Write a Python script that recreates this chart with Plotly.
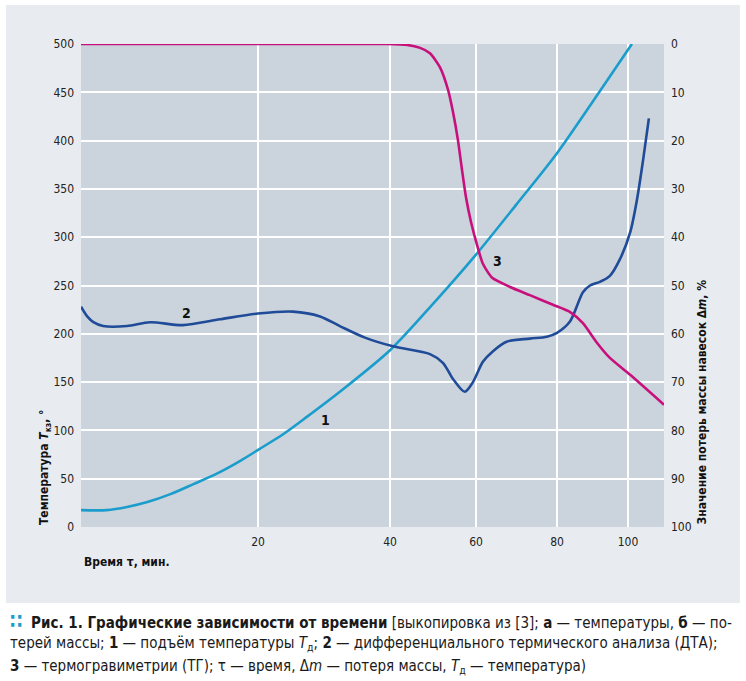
import numpy as np
import plotly.graph_objects as go

# time axis in the source is not linear: tick minutes and where they sit along the axis
tick_minutes = [0, 20, 40, 60, 80, 100, 110]
tick_axis_pos = [0, 177, 309, 395, 476, 547, 583]
x_tick_labels = ["20", "40", "60", "80", "100"]

# 1 - temperature rise, T (left axis)
temp_t = [0, 2.9, 5.2, 7.5, 10.1, 12.7, 15.4, 18.0, 20.2, 23.8, 27.4, 32.4,
          40, 50, 60, 70, 80, 90, 100, 101.1]
temp_v = [17.5, 17.5, 20.7, 25.8, 34, 44.4, 55.5, 68.5, 80.6, 96, 114, 140,
          183, 231, 282, 334, 387, 440, 494, 500]

# 2 - DTA (left axis)
dta_t = [0, 0.7, 1.4, 2.5, 5.2, 7.8, 11.5, 15.7, 20, 25.3, 29.4, 32.4, 36.2,
         40.7, 49.3, 52.3, 54.7, 57.4, 59.3, 61.7, 64.2, 67.7, 73.3, 77.5, 80,
         83.7, 87.3, 89.3, 92.2, 94.9, 97.7, 100.6, 102.5, 104.2, 105.8]
dta_v = [228, 218, 212, 208, 208, 212, 209, 215, 221, 223, 218, 208, 196,
         187, 179, 170, 153, 140, 150, 171, 182, 192, 195, 197, 201,
         213, 243, 250, 254, 260, 277, 305, 339, 380, 423]

# 3 - TG, mass loss % (right axis, reversed)
tg_t = [0, 39.5, 44.0, 47.0, 49.3, 51.6, 53.5, 54.65, 55.8, 56.75, 57.7, 58.85,
        60.25, 61.7, 64.0, 68.4, 73.3, 79.0, 83.7, 87.3, 91.3, 94.9, 100.6, 110]
tg_v = [0, 0, 0.2, 0.8, 1.9, 4.8, 9.5, 14.1, 19.9, 26.1, 31.9, 36.9,
        41.6, 45.5, 48.4, 50.3, 52, 54, 55.5, 57.8, 61.9, 65, 68.5, 74.7]

curve_labels = ["1", "2", "3"]
label_t = [30.2, 11.9, 65.2]
label_v = [111, 222, 275]


def to_axis(minutes):
    return np.interp(minutes, tick_minutes, tick_axis_pos)


PANEL = "#e8ecf0"
PLOT_BG = "#cbd4dc"
NARROW = "Liberation Sans Narrow, DejaVu Sans Condensed, Arial Narrow, sans-serif"
COND = "DejaVu Sans Condensed, sans-serif"

fig = go.Figure()
fig.add_trace(go.Scatter(x=to_axis(temp_t), y=temp_v, mode="lines",
                         line=dict(color="#1a9dcc", width=2.6, shape="spline", smoothing=0.8)))
fig.add_trace(go.Scatter(x=to_axis(dta_t), y=dta_v, mode="lines",
                         line=dict(color="#1f4b98", width=2.6, shape="spline", smoothing=0.8)))
fig.add_trace(go.Scatter(x=to_axis(tg_t), y=tg_v, mode="lines", yaxis="y2",
                         line=dict(color="#c8107c", width=2.6, shape="spline", smoothing=0.6)))

for txt, t, v in zip(curve_labels, label_t, label_v):
    fig.add_annotation(x=float(to_axis(t)), y=v, text="<b>%s</b>" % txt, showarrow=False,
                       font=dict(family=COND, size=14, color="#111"))

W, H = 746, 681
L, R, T, B = 81, 82, 44, 154
pw, ph = W - L - R, H - T - B


def px(x):
    return (x - L) / pw


def py(y):
    return (H - B - y) / ph


# white frame round the grey panel and under the caption
for x0, y0, x1, y1 in [(0, 0, W, 5), (0, 0, 6, H), (740, 0, W, H), (0, 603, W, H)]:
    fig.add_shape(type="rect", xref="paper", yref="paper", x0=px(x0), x1=px(x1),
                  y0=py(y1), y1=py(y0), fillcolor="white", line_width=0, layer="below")

fig.add_annotation(xref="paper", yref="paper", x=px(45), y=py(527), xanchor="center", yanchor="bottom",
                   textangle=-90, showarrow=False,
                   text="<b>Температура <i>T</i><sub>кз</sub>, °</b>",
                   font=dict(family=COND, size=12, color="#111"))
fig.add_annotation(xref="paper", yref="paper", x=px(701), y=py(527), xanchor="center", yanchor="bottom",
                   textangle=-90, showarrow=False,
                   text="<b>Значение потерь массы навесок Δ<i>m</i>, %</b>",
                   font=dict(family=COND, size=12, color="#111"))
fig.add_annotation(xref="paper", yref="paper", x=px(82), y=py(562), xanchor="left", yanchor="middle",
                   showarrow=False, text="<b>Время τ, мин.</b>",
                   font=dict(family=COND, size=12, color="#111"))

caption = [
    "<span style='color:#1a9dcc;font-size:20px'><b>∷</b></span>  <b>Рис. 1. Графические зависимости от времени</b> "
    "[выкопировка из [3]; <b>а</b> — температуры, <b>б</b> — по-",
    "терей массы; <b>1</b> — подъём температуры <i>T</i><sub>д</sub>; <b>2</b> — "
    "дифференциального термического анализа (ДТА);",
    "<b>3</b> — термогравиметрии (ТГ); τ — время, Δ<i>m</i> — потеря массы, "
    "<i>T</i><sub>д</sub> — температура)",
]
for i, line in enumerate(caption):
    fig.add_annotation(xref="paper", yref="paper", x=px(8), y=py(621 + 22.5 * i), xanchor="left",
                       yanchor="middle", showarrow=False, text=line, align="left",
                       font=dict(family=COND, size=15, color="#1a1a1a"))

fig.update_layout(
    width=W, height=H,
    margin=dict(l=L, r=R, t=T, b=B),
    paper_bgcolor=PANEL,
    plot_bgcolor=PLOT_BG,
    showlegend=False,
    font=dict(family=NARROW, color="#222"),
    xaxis=dict(range=[0, 583], tickvals=list(to_axis([20, 40, 60, 80, 100])),
               ticktext=x_tick_labels, showgrid=True, gridcolor="white", gridwidth=1.5,
               zeroline=False, showline=False, ticks="", tickfont=dict(size=12), ticklabelstandoff=6),
    yaxis=dict(range=[0, 500], dtick=50, showgrid=True, gridcolor="white", gridwidth=1.5,
               zeroline=False, showline=False, ticks="", tickfont=dict(size=12), ticklabelstandoff=6),
    yaxis2=dict(range=[100, 0], dtick=10, overlaying="y", side="right", showgrid=False,
                zeroline=False, showline=False, ticks="", tickfont=dict(size=12), ticklabelstandoff=6),
)

fig.write_html("out.html", config={"displayModeBar": False},
               post_script="document.body.style.margin='0px';")
